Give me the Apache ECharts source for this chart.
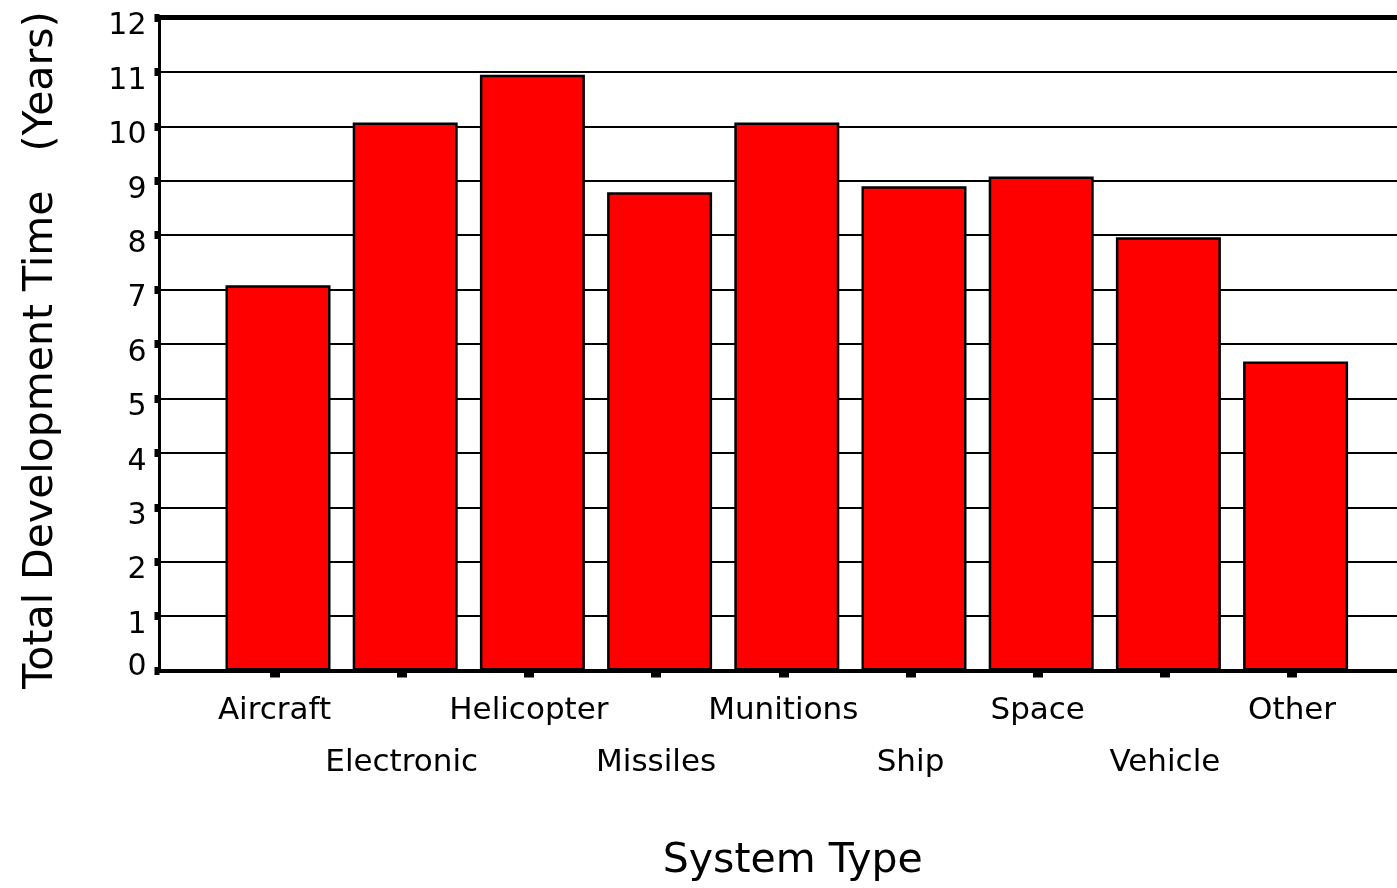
<!DOCTYPE html>
<html>
<head>
<meta charset="utf-8">
<script src="https://cdn.jsdelivr.net/npm/echarts@6/dist/echarts.min.js"></script>
<style>
html,body{margin:0;padding:0;background:#fff;}
#chart{width:1397px;height:888px;}
</style>
</head>
<body>
<div id="chart"></div>
<script>
const categories = ['Aircraft','Electronic','Helicopter','Missiles','Munitions','Ship','Space','Vehicle','Other'];
const values = [7.08, 10.07, 10.95, 8.79, 10.07, 8.90, 9.08, 7.96, 5.68];
const yMin = 0, yMax = 12, yStep = 1;
const yTitle = 'Total Development Time   (Years)';
const xTitle = 'System Type';

const FONT = 'DejaVu Sans';
const gridTop = 17.5, gridBottom = 217.5;
const chart = echarts.init(document.getElementById('chart'), null, {renderer:'canvas'});
const hiddenY = (gi) => ({gridIndex:gi, type:'value', min:yMin, max:yMax, interval:yStep, show:false});

chart.setOption({
  backgroundColor:'#fff',
  animation:false,
  grid:[
    {left:214.4, right:37.8, top:gridTop, bottom:gridBottom},
    {left:159.5, right:0, top:gridTop, bottom:gridBottom},
    {left:210.9, right:41.3, top:gridTop, bottom:gridBottom}
  ],
  xAxis:[
    {gridIndex:0, type:'category', data:categories, axisLine:{show:false}, axisTick:{show:false}, axisLabel:{show:false}, splitLine:{show:false},
     name:xTitle, nameLocation:'middle', nameGap:170, nameTextStyle:{fontFamily:FONT, fontSize:41, color:'#000', padding:[0,0,0,12]}},
    {gridIndex:1, type:'category', data:categories, position:'bottom', z:3, axisLine:{onZero:false, lineStyle:{color:'#000', width:4}}, axisTick:{show:false}, axisLabel:{show:false}, splitLine:{show:false}},
    {gridIndex:1, type:'category', data:categories, position:'top', z:3, axisLine:{onZero:false, lineStyle:{color:'#000', width:5}}, axisTick:{show:false}, axisLabel:{show:false}, splitLine:{show:false}},
    {gridIndex:2, type:'category', data:categories, axisLine:{show:false}, splitLine:{show:false},
     axisTick:{show:true, alignWithLabel:true, length:7, lineStyle:{color:'#000', width:10}},
     axisLabel:{interval:0, margin:14, fontFamily:FONT, fontSize:31, color:'#000', lineHeight:52,
       formatter:(v, i) => (i % 2 === 0 ? v : '\n' + v)}}
  ],
  yAxis:[
    hiddenY(0),
    {gridIndex:1, type:'value', min:yMin, max:yMax, interval:yStep,
     axisLine:{show:true, lineStyle:{color:'#000', width:3}},
     axisTick:{show:true, length:5, lineStyle:{color:'#000', width:8}},
     axisLabel:{margin:13, fontFamily:FONT, fontSize:30, color:'#000',
       formatter:(v) => (v === 0 ? '{z|' + v + '}' : '{n|' + v + '}'),
       rich:{
         n:{fontFamily:FONT, fontSize:30, color:'#000', padding:[18,0,0,0]},
         z:{fontFamily:FONT, fontSize:30, color:'#000', padding:[0,0,6,0]}
       }},
     splitLine:{show:true, lineStyle:{color:'#000', width:2}},
     name:yTitle, nameLocation:'middle', nameGap:98, nameRotate:90,
     nameTextStyle:{fontFamily:FONT, fontSize:41, color:'#000', padding:[0,12,0,0]}},
    hiddenY(2)
  ],
  series:[{
    type:'bar', xAxisIndex:0, yAxisIndex:0, data:values, barWidth:105,
    itemStyle:{color:'#ff0000', borderColor:'#000', borderWidth:2.5}
  }]
});
</script>
</body>
</html>
